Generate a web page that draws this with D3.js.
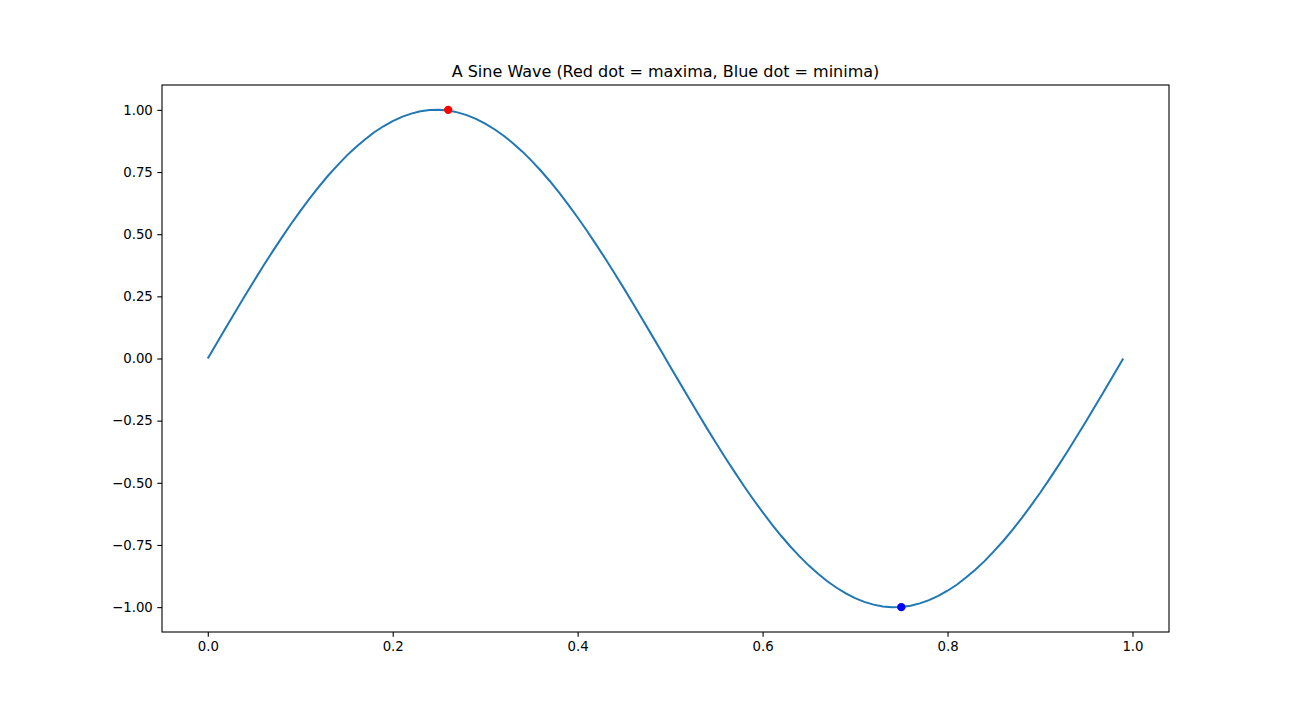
<!DOCTYPE html>
<html><head><meta charset="utf-8">
<script src="https://cdn.jsdelivr.net/npm/d3@7"></script>
<style>body{margin:0;background:#fff}svg text{font-family:"DejaVu Sans";}</style>
</head><body><svg id="c" width="1299" height="710"></svg>
<script>
const half = [0,0.063,0.127,0.189,0.251,0.312,0.372,0.430,0.486,0.541,0.593,0.643,0.690,0.735,0.776,0.815,0.850,0.881,0.910,0.934,0.955,0.972,0.985,0.994,0.999,1.000,0.997,0.990,0.979,0.964,0.945,0.922,0.896,0.866,0.833,0.796,0.756,0.713,0.667,0.618,0.567,0.514,0.458,0.401,0.342,0.282,0.220,0.158,0.095,0.032];
const yValues = half.concat(half.slice(1).reverse().map(v=>-v), [0]);
const xValues = yValues.map((_, i) => i / 100);
const maxima = [{x:0.26, y:1.0}];
const minima = [{x:0.75, y:-1.0}];
const xTicks = [0,0.2,0.4,0.6,0.8,1.0];
const yTicks = [-1,-0.75,-0.5,-0.25,0,0.25,0.5,0.75,1];
const title = "A Sine Wave (Red dot = maxima, Blue dot = minima)";

const L=162,R=1169,T=85,B=632;
const svg=d3.select("#c");
const x=d3.scaleLinear().domain([-0.0495,1.0395]).range([L,R]);
const y=d3.scaleLinear().domain([-1.1,1.1]).range([B,T]);
const fmt=(d,n)=>d3.format("."+n+"f")(d).replace("-","\u2212");
const xa=svg.append("g").attr("transform",`translate(0,${B})`).call(d3.axisBottom(x).tickValues(xTicks).tickFormat(d=>fmt(d,1)).tickSize(4.7).tickPadding(4.5));
const ya=svg.append("g").attr("transform",`translate(${L},0)`).call(d3.axisLeft(y).tickValues(yTicks).tickFormat(d=>fmt(d,2)).tickSize(4.7).tickPadding(4.5));
[xa,ya].forEach(a=>{a.select(".domain").remove();a.selectAll("text").attr("font-size","13.3px").attr("fill","#000").attr("font-family","DejaVu Sans");a.selectAll("line").attr("stroke","#000").attr("stroke-width",1.1);});
svg.append("path").datum(xValues.map((d,i)=>[d,yValues[i]])).attr("fill","none").attr("stroke","#1f77b4").attr("stroke-width",2)
 .attr("d",d3.line().x(d=>x(d[0])).y(d=>y(d[1])));
svg.selectAll(".mx").data(maxima).enter().append("circle").attr("cx",d=>x(d.x)).attr("cy",d=>y(d.y)).attr("r",4.2).attr("fill","red");
svg.selectAll(".mn").data(minima).enter().append("circle").attr("cx",d=>x(d.x)).attr("cy",d=>y(d.y)).attr("r",4.2).attr("fill","blue");
svg.append("rect").attr("x",L).attr("y",T).attr("width",R-L).attr("height",B-T).attr("fill","none").attr("stroke","#000").attr("stroke-width",1.1);
svg.append("text").attr("x",(L+R)/2).attr("y",T-8).attr("text-anchor","middle").attr("font-size","16px").text(title);
</script></body></html>
